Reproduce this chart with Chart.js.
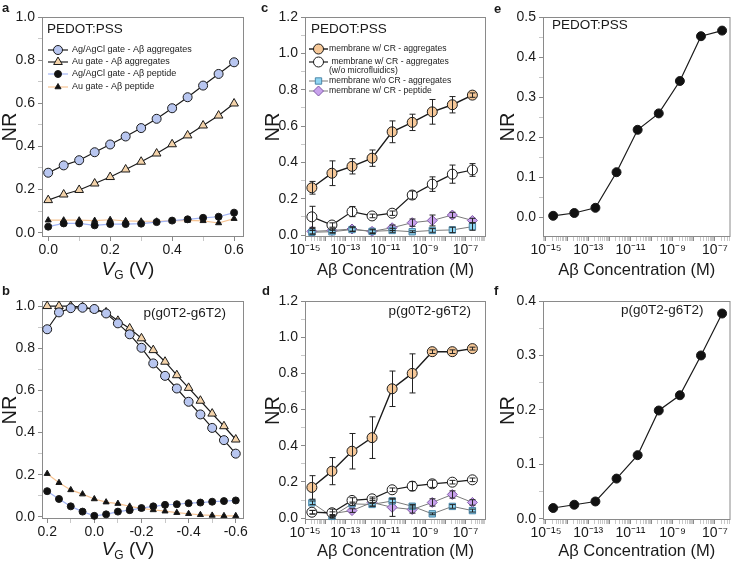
<!DOCTYPE html>
<html>
<head>
<meta charset="utf-8">
<script src="https://cdn.jsdelivr.net/npm/chart.js@4/dist/chart.umd.min.js"></script>
<style>
  body { margin: 0; background: #fff; width: 736px; height: 565px; position: relative; overflow: hidden;
         font-family: "Liberation Sans", Arial, sans-serif; color: #1a1a1a; }
  canvas { position: absolute; }
  .letter { position: absolute; font-weight: bold; font-size: 13px; line-height: 13px; }
  .vg { position: absolute; font-size: 19px; line-height: 20px; transform: translate(-50%, -50%); white-space: nowrap; }
  .vg sub { font-size: 12px; vertical-align: -4px; }
</style>
</head>
<body>
<canvas id="chartA" width="250" height="282" style="left:0;top:0"></canvas>
<canvas id="chartB" width="250" height="283" style="left:0;top:282px"></canvas>
<canvas id="chartC" width="242" height="282" style="left:250px;top:0"></canvas>
<canvas id="chartD" width="242" height="283" style="left:250px;top:282px"></canvas>
<canvas id="chartE" width="244" height="282" style="left:492px;top:0"></canvas>
<canvas id="chartF" width="244" height="283" style="left:492px;top:282px"></canvas>

<div class="letter" style="left:2px;top:1px">a</div>
<div class="letter" style="left:2px;top:284px">b</div>
<div class="letter" style="left:261px;top:1px">c</div>
<div class="letter" style="left:262px;top:284px">d</div>
<div class="letter" style="left:494px;top:2px">e</div>
<div class="letter" style="left:494px;top:284px">f</div>
<div class="vg" style="left:128px;top:272px"><i>V</i><sub>G</sub> (V)</div>
<div class="vg" style="left:128px;top:552px"><i>V</i><sub>G</sub> (V)</div>

<script>
// Panel a: gate voltage sweep, PEDOT:PSS
var vgA = [0, 0.05, 0.1, 0.15, 0.2, 0.25, 0.3, 0.35, 0.4, 0.45, 0.5, 0.55, 0.6];
var agAggA = [0.278, 0.312, 0.336, 0.373, 0.409, 0.446, 0.485, 0.528, 0.577, 0.628, 0.682, 0.736, 0.79];
var auAggA = [0.151, 0.177, 0.198, 0.228, 0.258, 0.293, 0.329, 0.367, 0.41, 0.451, 0.497, 0.543, 0.599];
var agPepA = [0.028, 0.043, 0.043, 0.034, 0.04, 0.04, 0.042, 0.049, 0.056, 0.062, 0.069, 0.074, 0.093];
var auPepA = [0.058, 0.058, 0.058, 0.056, 0.06, 0.055, 0.053, 0.053, 0.055, 0.057, 0.055, 0.045, 0.065];

// Panel b: gate voltage sweep, p(g0T2-g6T2)
var vgB = [0.2, 0.15, 0.1, 0.05, 0, -0.05, -0.1, -0.15, -0.2, -0.25, -0.3, -0.35, -0.4, -0.45, -0.5, -0.55, -0.6];
var agAggB = [0.89, 0.97, 0.99, 0.992, 0.986, 0.965, 0.918, 0.866, 0.802, 0.728, 0.669, 0.609, 0.546, 0.486, 0.422, 0.364, 0.30];
var auAggB = [1.0, 1.0, 1.0, 0.995, 0.985, 0.97, 0.93, 0.894, 0.847, 0.791, 0.736, 0.672, 0.612, 0.551, 0.49, 0.43, 0.367];
var agPepB = [0.122, 0.085, 0.05, 0.025, 0.005, 0.012, 0.025, 0.032, 0.042, 0.05, 0.057, 0.06, 0.065, 0.068, 0.072, 0.075, 0.078];
var auPepB = [0.205, 0.162, 0.128, 0.108, 0.085, 0.07, 0.063, 0.05, 0.04, 0.033, 0.027, 0.02, 0.015, 0.01, 0.007, 0.005, 0.005];

// Abeta concentrations (M)
var conc = [2.2e-15, 2.2e-14, 2.2e-13, 2.2e-12, 2.2e-11, 2.2e-10, 2.2e-9, 2.2e-8, 2.2e-7];

// Panel c: PEDOT:PSS, concentration series (value, error)
var crAggC = [0.26, 0.34, 0.378, 0.423, 0.568, 0.62, 0.678, 0.717, 0.77];
var crAggCErr = [0.035, 0.068, 0.042, 0.045, 0.06, 0.045, 0.068, 0.045, 0.012];
var noMfC = [0.1, 0.055, 0.129, 0.105, 0.12, 0.22, 0.28, 0.335, 0.358];
var noMfCErr = [0.058, 0.012, 0.028, 0.01, 0.012, 0.022, 0.04, 0.05, 0.035];
var noCrC = [0.015, 0.018, 0.03, 0.02, 0.025, 0.018, 0.025, 0.028, 0.046];
var noCrCErr = [0.01, 0.008, 0.01, 0.008, 0.01, 0.005, 0.01, 0.015, 0.02];
var pepC = [0.02, 0.025, 0.033, 0.02, 0.04, 0.068, 0.08, 0.11, 0.08];
var pepCErr = [0.015, 0.012, 0.012, 0.012, 0.015, 0.02, 0.03, 0.015, 0.012];

// Panel d: p(g0T2-g6T2), concentration series (value, error)
var crAggD = [0.17, 0.26, 0.37, 0.445, 0.715, 0.80, 0.92, 0.92, 0.937];
var crAggDErr = [0.065, 0.075, 0.098, 0.115, 0.098, 0.108, 0.01, 0.01, 0.008];
var noMfD = [0.033, 0.03, 0.098, 0.107, 0.157, 0.177, 0.19, 0.199, 0.212];
var noMfDErr = [0.01, 0.02, 0.015, 0.01, 0.01, 0.025, 0.02, 0.01, 0.01];
var noCrD = [0.085, 0.01, 0.079, 0.076, 0.095, 0.066, 0.024, 0.065, 0.042];
var noCrDErr = [0.01, 0.01, 0.01, 0.01, 0.01, 0.01, 0.005, 0.01, 0.008];
var pepD = [0.033, 0.025, 0.042, 0.087, 0.06, 0.048, 0.087, 0.131, 0.087];
var pepDErr = [0.01, 0.01, 0.01, 0.02, 0.05, 0.02, 0.02, 0.02, 0.015];

// Panels e, f
var nrE = [0.003, 0.01, 0.023, 0.112, 0.218, 0.259, 0.34, 0.452, 0.466];
var nrF = [0.02, 0.026, 0.032, 0.074, 0.117, 0.199, 0.227, 0.300, 0.377];

// tick labels (major) and minor tick positions
var vgTicksA = [0, 0.2, 0.4, 0.6];
var vgMinorA = [0.1, 0.3, 0.5];
var vgTicksB = [0.2, 0, -0.2, -0.4, -0.6];
var vgMinorB = [0.1, -0.1, -0.3, -0.5];
var nrTicks10 = [0, 0.2, 0.4, 0.6, 0.8, 1.0];
var nrMinor10 = [0.1, 0.3, 0.5, 0.7, 0.9];
var nrTicks12 = [0, 0.2, 0.4, 0.6, 0.8, 1.0, 1.2];
var nrMinor12 = [0.1, 0.3, 0.5, 0.7, 0.9, 1.1];
var nrTicksE = [0, 0.1, 0.2, 0.3, 0.4, 0.5];
var nrMinorE = [0.05, 0.15, 0.25, 0.35, 0.45];
var nrTicksF = [0, 0.1, 0.2, 0.3, 0.4];
var nrMinorF = [0.05, 0.15, 0.25, 0.35];
var concTicks = [1e-15, 1e-14, 1e-13, 1e-12, 1e-11, 1e-10, 1e-9, 1e-8, 1e-7];

Chart.defaults.font.family = '"Liberation Sans", Arial, sans-serif';
Chart.defaults.color = '#1a1a1a';

var SUP = { '-': '\u207B', '0': '\u2070', '1': '\u00B9', '2': '\u00B2', '3': '\u00B3', '4': '\u2074',
            '5': '\u2075', '6': '\u2076', '7': '\u2077', '8': '\u2078', '9': '\u2079' };
function logLabel(v) {
    var l = Math.log10(v), e = Math.round(l);
    if (Math.abs(l - e) > 1e-6 || e % 2 === 0) return '';
    return '10' + String(e).split('').map(function (c) { return SUP[c]; }).join('');
}

// minor ticks between decades (2..9 x 10^e)
var concMinor = [];
for (var e = -16; e <= -6; e++) {
    for (var m = 2; m <= 9; m++) concMinor.push(m * Math.pow(10, e));
}

function pts(xs, ys) {
    return xs.map(function (x, i) { return { x: x, y: ys[i] }; });
}

function tickList(major, minor) {
    return major.map(function (v) { return { value: v, major: true }; })
        .concat(minor.map(function (v) { return { value: v, major: false }; }))
        .sort(function (p, q) { return p.value - q.value; });
}

function tickColor(c) {
    return c.tick && c.tick.major ? '#8a8a8a' : '#c8c8c8';
}

// gray frame around the plot area
var framePlugin = {
    id: 'frame',
    beforeDatasetsDraw: function (chart) {
        var a = chart.chartArea, ctx = chart.ctx;
        ctx.save();
        ctx.strokeStyle = '#8a8a8a';
        ctx.lineWidth = 1;
        ctx.strokeRect(a.left + 0.5, a.top + 0.5, a.right - a.left - 1, a.bottom - a.top - 1);
        ctx.restore();
    }
};

// vertical error bars from dataset.err
var errorBars = {
    id: 'errorBars',
    afterDatasetsDraw: function (chart) {
        var ctx = chart.ctx, xs = chart.scales.x, ys = chart.scales.y;
        chart.data.datasets.forEach(function (ds) {
            if (!ds.err) return;
            ctx.save();
            ctx.strokeStyle = '#222';
            ctx.lineWidth = 1;
            ds.data.forEach(function (p, i) {
                var x = Math.round(xs.getPixelForValue(p.x)) + 0.5;
                var y1 = ys.getPixelForValue(p.y - ds.err[i]);
                var y2 = ys.getPixelForValue(p.y + ds.err[i]);
                ctx.beginPath();
                ctx.moveTo(x, y1); ctx.lineTo(x, y2);
                ctx.moveTo(x - 3, y1); ctx.lineTo(x + 3, y1);
                ctx.moveTo(x - 3, y2); ctx.lineTo(x + 3, y2);
                ctx.stroke();
            });
            ctx.restore();
        });
    }
};

// legend and label drawn inside the plot area
var insideLegend = {
    id: 'insideLegend',
    afterDatasetsDraw: function (chart, args, o) {
        var ctx = chart.ctx, a = chart.chartArea;
        ctx.save();
        ctx.textBaseline = 'middle';
        ctx.fillStyle = '#1a1a1a';
        if (o.note) {
            ctx.font = o.noteFont;
            ctx.textAlign = o.noteAlign;
            var nx = o.noteAlign === 'right' ? a.right + o.noteX : a.left + o.noteX;
            ctx.fillText(o.note, nx, a.top + o.noteY);
        }
        if (o.rows) {
            chart.data.datasets.forEach(function (ds, i) {
                var y = a.top + o.rows[i];
                var x0 = a.left + o.lineX[0], x1 = a.left + o.lineX[1];
                ctx.strokeStyle = ds.borderColor;
                ctx.lineWidth = ds.borderWidth;
                ctx.beginPath(); ctx.moveTo(x0, y); ctx.lineTo(x1, y); ctx.stroke();
                ctx.fillStyle = ds.pointBackgroundColor;
                ctx.strokeStyle = ds.pointBorderColor;
                ctx.lineWidth = ds.pointBorderWidth;
                Chart.helpers.drawPoint(ctx, { pointStyle: ds.pointStyle, radius: ds.pointRadius, rotation: 0,
                    borderWidth: ds.pointBorderWidth }, (x0 + x1) / 2, y);
                ctx.fillStyle = '#1a1a1a';
                ctx.font = o.font;
                ctx.textAlign = 'left';
                [].concat(ds.label).forEach(function (t, k) {
                    ctx.fillText(t, a.left + o.textX, y + k * o.lineH);
                });
            });
        }
        ctx.restore();
    }
};

function series(label, data, style) {
    var ds = {
        label: label, data: data, clip: false,
        borderColor: style.line, borderWidth: style.lw || 1.2,
        pointStyle: style.shape || 'circle', pointRadius: style.r || 4.5,
        pointBackgroundColor: style.fill, pointBorderColor: style.edge || '#1a1a1a', pointBorderWidth: 1,
        tension: 0
    };
    if (style.err) ds.err = style.err;
    return ds;
}

function axisY(major, minor, min, max, width) {
    return {
        type: 'linear', min: min, max: max,
        afterBuildTicks: function (s) { s.ticks = tickList(major, minor); },
        afterFit: function (s) { s.width = width; },
        ticks: { font: { size: 14 }, padding: 3, autoSkip: false,
                 callback: function (v) { return major.indexOf(v) >= 0 ? v.toFixed(1) : ''; } },
        grid: { drawOnChartArea: false, tickLength: 4, tickColor: tickColor },
        border: { display: false },
        title: { display: true, text: 'NR', font: { size: 20, lineHeight: 1.0 }, padding: 0 }
    };
}

function axisVg(major, minor, min, max, height, reverse) {
    return {
        type: 'linear', min: min, max: max, reverse: reverse,
        afterBuildTicks: function (s) { s.ticks = tickList(major, minor); },
        afterFit: function (s) { s.height = height; },
        ticks: { font: { size: 14 }, padding: 1, maxRotation: 0, autoSkip: false,
                 callback: function (v) { return major.indexOf(v) >= 0 ? v.toFixed(1) : ''; } },
        grid: { drawOnChartArea: false, tickLength: 4, tickColor: tickColor },
        border: { display: false }
    };
}

function axisConc(min, max, height) {
    return {
        type: 'logarithmic', min: min, max: max,
        afterBuildTicks: function (s) {
            s.ticks = tickList(concTicks, concMinor.filter(function (v) { return v >= min && v <= max; }));
        },
        afterFit: function (s) { s.height = height; },
        ticks: { font: { size: 14 }, padding: 1, maxRotation: 0, autoSkip: false, callback: logLabel },
        grid: { drawOnChartArea: false, tickLength: 4, tickColor: tickColor },
        border: { display: false },
        title: { display: true, text: 'A\u03B2 Concentration (M)', font: { size: 16.5, lineHeight: 1.2 }, padding: 0 }
    };
}

function makeChart(id, datasets, xAxis, yAxis, pad, legendOpts) {
    return new Chart(document.getElementById(id).getContext('2d'), {
        type: 'line',
        data: { datasets: datasets },
        options: {
            responsive: false, animation: false, events: [],
            layout: { padding: pad },
            scales: { x: xAxis, y: yAxis },
            plugins: { legend: { display: false }, tooltip: { enabled: false }, insideLegend: legendOpts }
        },
        plugins: [framePlugin, errorBars, insideLegend]
    });
}

var blueCirc = '#b8c6f0', tanTri = '#f4d3aa', pepBlue = '#a3b5f5', pepOrange = '#f6c392';
var peach = '#f6c898', sky = '#8fd5f2', lilac = '#c8a2ec';

// a
makeChart('chartA', [
    series('Ag/AgCl gate - A\u03B2 aggregates', pts(vgA, agAggA), { line: '#1a1a1a', fill: blueCirc }),
    series('Au gate - A\u03B2 aggregates', pts(vgA, auAggA), { line: '#1a1a1a', fill: tanTri, shape: 'triangle', r: 5 }),
    series('Ag/AgCl gate - A\u03B2 peptide', pts(vgA, agPepA), { line: pepBlue, fill: '#111', r: 3.5 }),
    series('Au gate - A\u03B2 peptide', pts(vgA, auPepA), { line: pepOrange, fill: '#111', shape: 'triangle', r: 3.5 })
], axisVg(vgTicksA, vgMinorA, -0.02, 0.632, 45, false), axisY(nrTicks10, nrMinor10, -0.02, 1.0, 42),
    { left: 0, top: 17, right: 2, bottom: 0 },
    { note: 'PEDOT:PSS', noteFont: '13.5px "Liberation Sans", Arial', noteAlign: 'left', noteX: 5, noteY: 12,
      rows: [33, 45, 57, 70], lineX: [6, 26], textX: 30, font: '9px "Liberation Sans", Arial', lineH: 9 });

// b
makeChart('chartB', [
    series('Ag/AgCl gate - A\u03B2 aggregates', pts(vgB, agAggB), { line: '#1a1a1a', fill: blueCirc }),
    series('Au gate - A\u03B2 aggregates', pts(vgB, auAggB), { line: '#1a1a1a', fill: tanTri, shape: 'triangle', r: 5 }),
    series('Ag/AgCl gate - A\u03B2 peptide', pts(vgB, agPepB), { line: pepBlue, fill: '#111', r: 3.5 }),
    series('Au gate - A\u03B2 peptide', pts(vgB, auPepB), { line: pepOrange, fill: '#111', shape: 'triangle', r: 3.5 })
], axisVg(vgTicksB, vgMinorB, -0.635, 0.222, 46, true), axisY(nrTicks10, nrMinor10, -0.01, 1.024, 42),
    { left: 0, top: 19, right: 2, bottom: 0 },
    { note: 'p(g0T2-g6T2)', noteFont: '13.5px "Liberation Sans", Arial', noteAlign: 'right', noteX: -18, noteY: 12 });

// c
makeChart('chartC', [
    series('membrane w/ CR - aggregates', pts(conc, crAggC), { line: '#1a1a1a', lw: 1.4, fill: peach, r: 5, err: crAggCErr }),
    series([' membrane w/ CR - aggregates', '(w/o microfluidics)'], pts(conc, noMfC), { line: '#1a1a1a', fill: '#fff', r: 5, err: noMfCErr }),
    series('membrane w/o CR - aggregates', pts(conc, noCrC), { line: '#7a7a7a', lw: 1, fill: sky, edge: '#4a86a8', shape: 'rect', r: 4.5, err: noCrCErr }),
    series('membrane w/ CR - peptide', pts(conc, pepC), { line: '#7a7a7a', lw: 1, fill: lilac, edge: '#8059a8', shape: 'rectRot', r: 5, err: pepCErr })
], axisConc(1e-15, Math.pow(10, -5.98), 43.6), axisY(nrTicks12, nrMinor12, -0.011, 1.2, 42),
    { left: 13, top: 17, right: 2, bottom: 1.4 },
    { note: 'PEDOT:PSS', noteFont: '13.5px "Liberation Sans", Arial', noteAlign: 'left', noteX: 6, noteY: 12,
      rows: [32, 45, 64, 74], lineX: [4, 23], textX: 24, font: '8.6px "Liberation Sans", Arial', lineH: 9 });

// d
makeChart('chartD', [
    series('membrane w/ CR - aggregates', pts(conc, crAggD), { line: '#1a1a1a', lw: 1.4, fill: peach, r: 5, err: crAggDErr }),
    series('membrane w/ CR - aggregates (w/o microfluidics)', pts(conc, noMfD), { line: '#1a1a1a', fill: '#fff', r: 5, err: noMfDErr }),
    series('membrane w/o CR - aggregates', pts(conc, noCrD), { line: '#7a7a7a', lw: 1, fill: sky, edge: '#4a86a8', shape: 'rect', r: 4.5, err: noCrDErr }),
    series('membrane w/ CR - peptide', pts(conc, pepD), { line: '#7a7a7a', lw: 1, fill: lilac, edge: '#8059a8', shape: 'rectRot', r: 5, err: pepDErr })
], axisConc(1e-15, Math.pow(10, -5.98), 41.6), axisY(nrTicks12, nrMinor12, -0.01, 1.2, 42),
    { left: 13, top: 19, right: 2, bottom: 3.4 },
    { note: 'p(g0T2-g6T2)', noteFont: '13.5px "Liberation Sans", Arial', noteAlign: 'right', noteX: -15, noteY: 10 });

// e
makeChart('chartE', [
    series('PEDOT:PSS', pts(conc, nrE), { line: '#1a1a1a', fill: '#111', r: 4.5 })
], axisConc(Math.pow(10, -15.14), Math.pow(10, -6.26), 43.6), axisY(nrTicksE, nrMinorE, -0.05, 0.5, 45),
    { left: 6, top: 17, right: 2, bottom: 1.4 },
    { note: 'PEDOT:PSS', noteFont: '13.5px "Liberation Sans", Arial', noteAlign: 'left', noteX: 9, noteY: 8 });

// f
makeChart('chartF', [
    series('p(g0T2-g6T2)', pts(conc, nrF), { line: '#1a1a1a', fill: '#111', r: 4.5 })
], axisConc(Math.pow(10, -15.14), Math.pow(10, -6.26), 41.6), axisY(nrTicksF, nrMinorF, -0.002, 0.4, 45),
    { left: 6, top: 19, right: 2, bottom: 3.4 },
    { note: 'p(g0T2-g6T2)', noteFont: '13.5px "Liberation Sans", Arial', noteAlign: 'right', noteX: -27, noteY: 9 });
</script>
</body>
</html>
